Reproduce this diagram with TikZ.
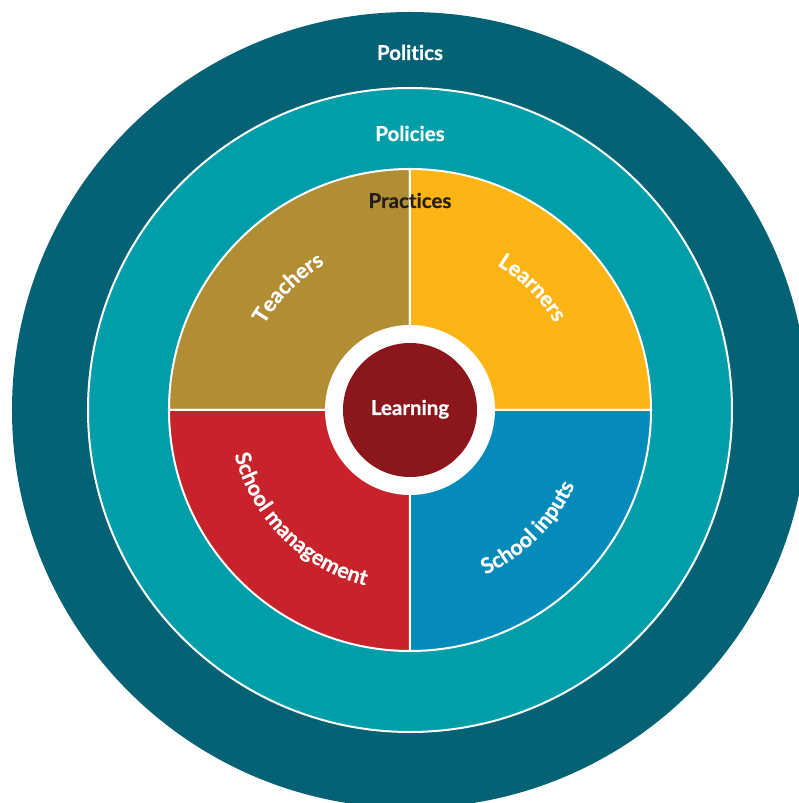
\documentclass[tikz,border=0pt]{standalone}
\usepackage{fontspec}
\setmainfont{Lato}[Ligatures=NoCommon,BoldFeatures={FakeBold=0.6}]
\usetikzlibrary{decorations.text}
\definecolor{FigurePetrol}{HTML}{046274}
\definecolor{FigureTeal}{HTML}{009EA9}
\definecolor{FigureOchre}{HTML}{B18E33}
\definecolor{FigureAmber}{HTML}{FDB515}
\definecolor{FigureCerulean}{HTML}{058BBA}
\definecolor{FigureRed}{HTML}{C8222A}
\definecolor{FigureMaroon}{HTML}{8B161C}
\definecolor{FigureInk}{HTML}{231F20}
\newcommand\ringfont{\bfseries\fontsize{20.5}{24}\selectfont}
\newcommand\arcfont{\bfseries\fontsize{21.5}{24}\selectfont}

\begin{document}
\begin{tikzpicture}[x=1pt,y=1pt,line cap=round,
  ringtext/.style={font=\ringfont,text=white,anchor=base,inner sep=0pt},
  sector/.style={draw=white,line width=2pt},
  arctext/.style={decorate,decoration={text along path,text align=center,text color=white,text={|\arcfont|#1}}}]
  \useasboundingbox (-410,-393) rectangle (389,410); \clip (-410,-393) rectangle (389,410);
  \fill[FigurePetrol] (0,0) circle[radius=398];
  \filldraw[sector,fill=FigureTeal] (0,0) circle[radius=322];
  % the four quarters of practice
  \filldraw[sector,fill=FigureOchre] (0,0) -- (180:241) arc[start angle=180,end angle=90,radius=241] -- cycle;
  \filldraw[sector,fill=FigureAmber] (0,0) -- (90:241) arc[start angle=90,end angle=0,radius=241] -- cycle;
  \filldraw[sector,fill=FigureCerulean] (0,0) -- (0:241) arc[start angle=360,end angle=270,radius=241] -- cycle;
  \filldraw[sector,fill=FigureRed] (0,0) -- (270:241) arc[start angle=270,end angle=180,radius=241] -- cycle;
  \fill[white] (0,0) circle[radius=85];
  \node[circle,fill=FigureMaroon,minimum size=134,inner sep=0pt] (core) at (0,0) {};
  % ring titles
  \node[ringtext] (politics) at (0,350) {Politics};
  \node[ringtext] (policies) at (0,269) {Policies};
  \node[ringtext,text=FigureInk] (practices) at (0,202) {Practices};
  \node[ringtext] (learning) at (0,-5) {Learning};
  % curved labels, tops outward above and inward below
  \path[arctext=Teachers] (180:169) arc[start angle=180,end angle=90,radius=169];
  \path[arctext=Learners] (90:169) arc[start angle=90,end angle=0,radius=169];
  \path[arctext=School management] (180:181) arc[start angle=180,end angle=270,radius=181];
  \path[arctext=School inputs] (270:181) arc[start angle=270,end angle=360,radius=181];
\end{tikzpicture}
\end{document}
